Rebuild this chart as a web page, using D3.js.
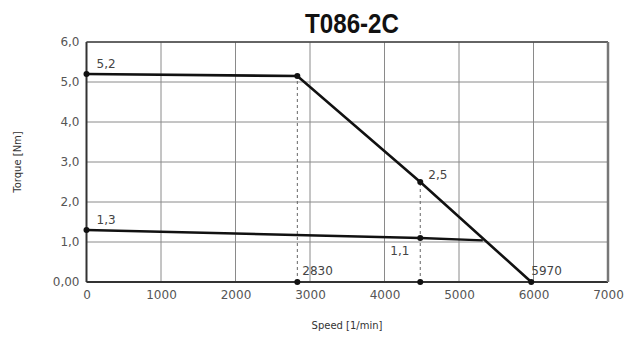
<!DOCTYPE html>
<html>
<head>
<meta charset="utf-8">
<script src="https://cdn.jsdelivr.net/npm/d3@7"></script>
<style>
  body { margin: 0; background: #fff; }
  text { font-family: "DejaVu Sans", sans-serif; }
</style>
</head>
<body>
<div id="chart"></div>
<script>
// T086-2C torque / speed curve
var xTicks = [0, 1000, 2000, 3000, 4000, 5000, 6000, 7000];
var yTicks = [0, 1, 2, 3, 4, 5, 6];
var yTickLabels = ["0,00", "1,0", "2,0", "3,0", "4,0", "5,0", "6,0"];

// upper (peak) curve and lower (continuous) curve
var peakSpeed = [0, 2830, 4480, 5970];
var peakTorque = [5.2, 5.15, 2.5, 0];
var contSpeed = [0, 4480, 5320];
var contTorque = [1.3, 1.1, 1.04];

// marker dots, dashed guides, value labels
var dotSpeed = [0, 2830, 4480, 5970, 0, 4480, 2830, 4480];
var dotTorque = [5.2, 5.15, 2.5, 0, 1.3, 1.1, 0, 0];
var guideSpeed = [2830, 4480];
var guideTop = [5.15, 2.5];
var labelText = ["5,2", "1,3", "2,5", "1,1", "2830", "5970"];
var labelSpeed = [0, 0, 4480, 4480, 2830, 5970];
var labelTorque = [5.2, 1.3, 2.5, 1.1, 0, 0];
var labelDx = [10, 10, 8, -30, 5, 0];
var labelDy = [-6, -6, -3, 17, -7, -7];

var W = 635, H = 338;
var svg = d3.select("#chart").append("svg")
    .attr("width", W).attr("height", H);

var x = d3.scaleLinear().domain([0, 7000]).range([86.5, 608]);
var y = d3.scaleLinear().domain([0, 6]).range([282, 42]);

// grid
svg.append("g").selectAll("line.v")
    .data(xTicks).enter().append("line")
    .attr("x1", d => x(d)).attr("x2", d => x(d))
    .attr("y1", y(0)).attr("y2", y(6))
    .style("stroke", "#8a8a8a").style("stroke-width", 1);
svg.append("g").selectAll("line.h")
    .data(yTicks).enter().append("line")
    .attr("x1", x(0)).attr("x2", x(7000))
    .attr("y1", d => y(d)).attr("y2", d => y(d))
    .style("stroke", "#8a8a8a").style("stroke-width", 1);

// frame
svg.append("line").attr("x1", x(0)).attr("x2", x(0)).attr("y1", y(0)).attr("y2", y(6))
    .style("stroke", "#333").style("stroke-width", 2);
svg.append("line").attr("x1", x(0)).attr("x2", x(7000)).attr("y1", y(0)).attr("y2", y(0))
    .style("stroke", "#333").style("stroke-width", 2);
svg.append("line").attr("x1", x(0)).attr("x2", x(7000)).attr("y1", y(6)).attr("y2", y(6))
    .style("stroke", "#444").style("stroke-width", 1.5);
svg.append("line").attr("x1", x(7000)).attr("x2", x(7000)).attr("y1", y(0)).attr("y2", y(6))
    .style("stroke", "#777").style("stroke-width", 2.5);

// axes tick labels
var xAxis = d3.axisBottom(x).tickValues(xTicks).tickSize(0).tickPadding(8)
    .tickFormat(d3.format("d"));
var gx = svg.append("g").attr("transform", "translate(0," + y(0) + ")").call(xAxis);
gx.select(".domain").remove();
gx.selectAll("text").style("font-size", "12px").style("fill", "#555")
    .style("font-family", "DejaVu Sans, sans-serif");

var yAxis = d3.axisLeft(y).tickValues(yTicks).tickSize(0).tickPadding(7)
    .tickFormat((d, i) => yTickLabels[i]);
var gy = svg.append("g").attr("transform", "translate(" + x(0) + ",0)").call(yAxis);
gy.select(".domain").remove();
gy.selectAll("text").style("font-size", "12px").style("fill", "#555")
    .style("font-family", "DejaVu Sans, sans-serif");

// dashed guides
svg.append("g").selectAll("line")
    .data(guideSpeed).enter().append("line")
    .attr("x1", d => x(d)).attr("x2", d => x(d))
    .attr("y1", y(0)).attr("y2", (d, i) => y(guideTop[i]))
    .style("stroke", "#666").style("stroke-width", 1)
    .style("stroke-dasharray", "3,3");

// curves
var line = d3.line().x(d => x(d[0])).y(d => y(d[1]));
svg.append("path")
    .datum(peakSpeed.map((s, i) => [s, peakTorque[i]]))
    .attr("d", line).style("fill", "none").style("stroke", "#111").style("stroke-width", 2.6);
svg.append("path")
    .datum(contSpeed.map((s, i) => [s, contTorque[i]]))
    .attr("d", line).style("fill", "none").style("stroke", "#111").style("stroke-width", 2.4);

// dots
svg.append("g").selectAll("circle")
    .data(dotSpeed).enter().append("circle")
    .attr("cx", d => x(d)).attr("cy", (d, i) => y(dotTorque[i]))
    .attr("r", 3).style("fill", "#111");

// value labels
svg.append("g").selectAll("text")
    .data(labelText).enter().append("text")
    .attr("x", (d, i) => x(labelSpeed[i]) + labelDx[i])
    .attr("y", (d, i) => y(labelTorque[i]) + labelDy[i])
    .style("font-size", "12px").style("fill", "#444")
    .text(d => d);

// title and axis titles
svg.append("text").attr("x", 305).attr("y", 33)
    .attr("textLength", 94).attr("lengthAdjust", "spacingAndGlyphs")
    .style("font-family", "Liberation Sans, Arial, sans-serif")
    .style("font-size", "27px").style("font-weight", "bold").style("fill", "#111")
    .text("T086-2C");
svg.append("text").attr("x", 347).attr("y", 329)
    .attr("text-anchor", "middle")
    .style("font-size", "10px").style("fill", "#333")
    .text("Speed [1/min]");
svg.append("text")
    .attr("transform", "translate(21,162) rotate(-90)")
    .attr("text-anchor", "middle")
    .style("font-size", "10px").style("fill", "#333")
    .text("Torque [Nm]");
</script>
</body>
</html>
